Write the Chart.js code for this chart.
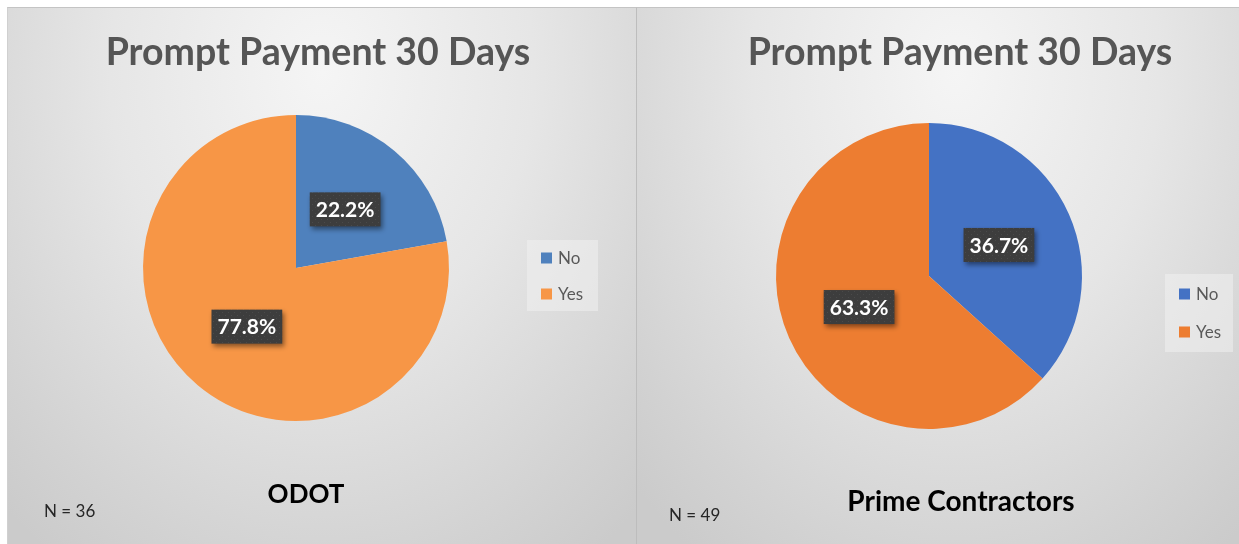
<!DOCTYPE html>
<html>
<head>
<meta charset="utf-8">
<script src="https://cdn.jsdelivr.net/npm/chart.js@4.4.1/dist/chart.umd.min.js"></script>
<style>
  html, body { margin: 0; padding: 0; background: #ffffff; }
  body { width: 1239px; height: 544px; position: relative; overflow: hidden; }
  .panel {
    position: absolute; top: 7px; height: 537px;
    border-top: 1px solid #c4c4c4;
    box-sizing: border-box;
  }
  #p1 {
    left: 7px; width: 630px;
    border-left: 1px solid #d0d0d0;
    border-right: 1px solid #bdbdbd;
    background: radial-gradient(ellipse 75% 110% at 50% 12%, #f5f5f5 0%, #e6e6e6 45%, #d2d2d2 85%, #cbcbcb 100%);
  }
  #p2 {
    left: 637px; width: 602px;
    background: radial-gradient(ellipse 75% 110% at 53% 12%, #f5f5f5 0%, #e6e6e6 45%, #d2d2d2 85%, #cbcbcb 100%);
  }
  canvas { display: block; }
</style>
</head>
<body>
<div class="panel" id="p1"><canvas id="c1"></canvas></div>
<div class="panel" id="p2"><canvas id="c2"></canvas></div>
<script>
// Survey answers: "Is payment made within 30 days?"
const sliceLabels = ['No', 'Yes'];
const odotValues = [22.2, 77.8];
const primeValues = [36.7, 63.3];
const odotColors = ['#4f81bd', '#f79646'];
const primeColors = ['#4472c4', '#ed7d31'];
const chartTitle = 'Prompt Payment 30 Days';
const groupNames = ['ODOT', 'Prime Contractors'];
const sampleSizes = [36, 49];

const FONT = 'Lato, "Open Sans", sans-serif';

// Small dotted texture used behind the value labels
function dotPattern(ctx) {
  const c = document.createElement('canvas');
  c.width = 6; c.height = 6;
  const g = c.getContext('2d');
  g.fillStyle = '#3d3d3d';
  g.fillRect(0, 0, 6, 6);
  g.fillStyle = '#4a4a4a';
  g.fillRect(1, 1, 1, 1);
  g.fillRect(4, 4, 1, 1);
  return ctx.createPattern(c, 'repeat');
}

// Value labels in dark boxes, placed at each slice's centre point
const valueBoxes = {
  id: 'valueBoxes',
  afterDatasetsDraw(chart) {
    const ctx = chart.ctx;
    const meta = chart.getDatasetMeta(0);
    const data = chart.data.datasets[0].data;
    const pat = dotPattern(ctx);
    ctx.save();
    ctx.font = 'bold 21px ' + FONT;
    ctx.textAlign = 'center';
    ctx.textBaseline = 'middle';
    meta.data.forEach((arc, i) => {
      const p = arc.getCenterPoint();
      const txt = data[i].toFixed(1) + '%';
      const w = ctx.measureText(txt).width + 12;
      const h = 34;
      ctx.save();
      ctx.shadowColor = 'rgba(0,0,0,0.45)';
      ctx.shadowBlur = 5;
      ctx.shadowOffsetX = 2;
      ctx.shadowOffsetY = 3;
      ctx.fillStyle = pat;
      ctx.fillRect(p.x - w / 2, p.y - h / 2, w, h);
      ctx.restore();
      ctx.fillStyle = '#ffffff';
      ctx.fillText(txt, p.x, p.y + 1);
    });
    ctx.restore();
  }
};

// Title, group name, sample size and the key for each panel
const panelText = {
  id: 'panelText',
  afterDraw(chart, args, o) {
    const ctx = chart.ctx;
    ctx.save();
    ctx.textBaseline = 'middle';
    ctx.textAlign = 'center';
    ctx.fillStyle = '#555555';
    ctx.font = 'bold 37.5px ' + FONT;
    ctx.fillText(chartTitle, o.titleX, o.titleY);

    ctx.fillStyle = '#000000';
    ctx.font = 'bold ' + o.groupSize + 'px ' + FONT;
    ctx.fillText(o.group, o.groupX, o.groupY);

    ctx.textAlign = 'left';
    ctx.fillStyle = '#262626';
    ctx.font = '17px ' + FONT;
    ctx.fillText('N = ' + o.n, o.nX, o.nY);

    // key
    const L = o.legend;
    ctx.fillStyle = 'rgba(240,240,240,0.55)';
    ctx.fillRect(L.x, L.y, L.w, L.h);
    const colors = chart.data.datasets[0].backgroundColor;
    ctx.font = '17px ' + FONT;
    chart.data.labels.forEach((lab, i) => {
      const cy = L.y + L.first + i * L.gap;
      ctx.fillStyle = colors[i];
      ctx.fillRect(L.x + 14, cy - 5.5, 11, 11);
      ctx.fillStyle = '#595959';
      ctx.fillText(lab, L.x + 31, cy + 1);
    });
    ctx.restore();
  }
};

function makePie(id, values, colors, padding, text) {
  return new Chart(document.getElementById(id), {
    type: 'pie',
    data: {
      labels: sliceLabels,
      datasets: [{ data: values, backgroundColor: colors, borderWidth: 0 }]
    },
    options: {
      responsive: true,
      maintainAspectRatio: false,
      animation: false,
      layout: { padding: padding },
      plugins: {
        legend: { display: false },
        tooltip: { enabled: false },
        panelText: text
      }
    },
    plugins: [valueBoxes, panelText]
  });
}

makePie('c1', odotValues, odotColors,
  { left: 135, top: 107, right: 187, bottom: 123 },
  {
    titleX: 310, titleY: 45,
    group: groupNames[0], groupSize: 26, groupX: 298, groupY: 487,
    n: sampleSizes[0], nX: 36, nY: 504,
    legend: { x: 519, y: 232, w: 71, h: 71, first: 18, gap: 36 }
  });

makePie('c2', primeValues, primeColors,
  { left: 139, top: 115, right: 157, bottom: 115 },
  {
    titleX: 323, titleY: 45,
    group: groupNames[1], groupSize: 28, groupX: 324, groupY: 494,
    n: sampleSizes[1], nX: 32, nY: 508,
    legend: { x: 528, y: 266, w: 68, h: 78, first: 20, gap: 38 }
  });
</script>
</body>
</html>
